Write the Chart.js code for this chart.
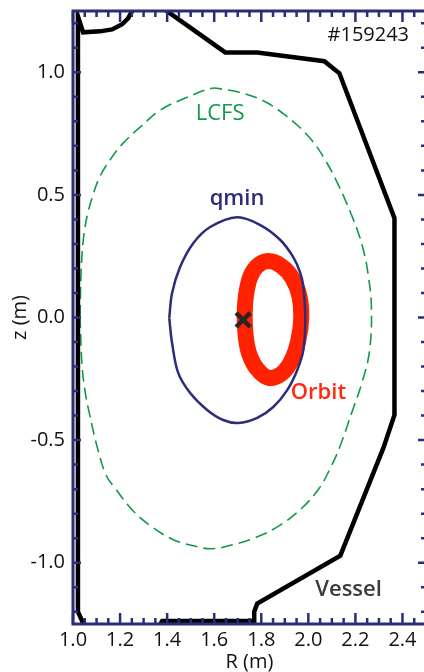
<!DOCTYPE html>
<html>
<head>
<meta charset="utf-8">
<script src="https://cdn.jsdelivr.net/npm/chart.js@4"></script>
<style>
  html, body { margin: 0; padding: 0; background: #fff; overflow: hidden; }
  #wrap { position: relative; width: 426px; height: 672px; }
</style>
</head>
<body>
<div id="wrap"><canvas id="myChart"></canvas></div>
<script>
// tick labels
const rTicks = [1.0, 1.2, 1.4, 1.6, 1.8, 2.0, 2.2, 2.4];
const zTicks = [-1.0, -0.5, 0.0, 0.5, 1.0];

// vessel wall (R, z) - parts above/below the frame get clipped
const vesselR = [1.021, 1.021, 1.043, 1.115, 1.166, 1.209, 1.234, 1.280, 1.325, 1.647, 1.783, 2.068, 2.132, 2.366, 2.366, 2.319, 2.136, 1.783, 1.770, 1.770, 1.379, 1.340, 1.060, 1.038, 1.021];
const vesselZ = [-1.200, 1.228, 1.163, 1.167, 1.175, 1.196, 1.220, 1.300, 1.300, 1.081, 1.081, 1.045, 0.996, 0.405, -0.397, -0.532, -0.971, -1.167, -1.200, -1.238, -1.238, -1.300, -1.300, -1.236, -1.200];

// last closed flux surface
const lcfsR = [1.030, 1.034, 1.042, 1.051, 1.063, 1.082, 1.113, 1.157, 1.213, 1.285, 1.370, 1.485, 1.591, 1.634, 1.706, 1.804, 1.902, 2.004, 2.072, 2.132, 2.180, 2.210, 2.235, 2.254, 2.268, 2.260, 2.230, 2.187, 2.132, 2.094, 2.047, 1.974, 1.877, 1.774, 1.677, 1.591, 1.511, 1.426, 1.340, 1.255, 1.178, 1.140, 1.104, 1.070, 1.051, 1.038, 1.030];
const lcfsZ = [0.002, 0.177, 0.299, 0.369, 0.426, 0.491, 0.572, 0.642, 0.711, 0.776, 0.845, 0.898, 0.935, 0.931, 0.919, 0.886, 0.825, 0.735, 0.642, 0.532, 0.426, 0.352, 0.271, 0.177, 0.043, -0.136, -0.259, -0.381, -0.532, -0.613, -0.695, -0.776, -0.849, -0.898, -0.927, -0.943, -0.931, -0.906, -0.857, -0.788, -0.695, -0.642, -0.532, -0.393, -0.299, -0.189, 0.002];

// qmin surface
const qminR = [1.409, 1.421, 1.455, 1.511, 1.583, 1.698, 1.796, 1.881, 1.936, 1.966, 1.979, 1.987, 1.979, 1.953, 1.911, 1.851, 1.783, 1.702, 1.638, 1.570, 1.498, 1.447, 1.421, 1.409];
const qminZ = [-0.002, 0.100, 0.206, 0.303, 0.369, 0.409, 0.377, 0.316, 0.246, 0.181, 0.124, -0.002, -0.132, -0.214, -0.295, -0.365, -0.409, -0.430, -0.418, -0.377, -0.308, -0.226, -0.104, -0.002];

// orbit
const orbitR = [1.730, 1.730, 1.736, 1.753, 1.783, 1.830, 1.885, 1.932, 1.962, 1.970, 1.957, 1.928, 1.885, 1.830, 1.779, 1.749, 1.736, 1.730];
const orbitZ = [-0.026, 0.031, 0.096, 0.165, 0.210, 0.230, 0.210, 0.161, 0.088, -0.002, -0.096, -0.177, -0.230, -0.246, -0.206, -0.149, -0.092, -0.026];

// magnetic axis
const axisR = [1.723];
const axisZ = [-0.010];

const navy = '#2b2d78';
const FONT = '"Open Sans", "DejaVu Sans", sans-serif';

const pts = (rs, zs) => rs.map((r, i) => ({x: r, y: zs[i]}));

// text labels (R, z of text centre)
const notes = [
    {text: '#159243', r: 2.428, z: 1.151, color: '#111', size: 20, align: 'right', bold: false},
    {text: 'LCFS', r: 1.625, z: 0.833, color: '#12994a', size: 22, align: 'center', bold: false},
    {text: 'qmin', r: 1.697, z: 0.483, color: navy, size: 22, align: 'center', bold: true},
    {text: 'Orbit', r: 2.043, z: -0.306, color: '#ff2a10', size: 22, align: 'center', bold: true},
    {text: 'Vessel', r: 2.171, z: -1.109, color: '#3c3c3c', size: 22, align: 'center', bold: true}
];

const framePlugin = {
    id: 'frame',
    afterDatasetsDraw(chart) {
        const {ctx, chartArea: a} = chart;
        const xs = chart.scales.x, ys = chart.scales.y;
        ctx.save();
        ctx.strokeStyle = navy;
        ctx.lineWidth = 2.5;
        ctx.beginPath();
        for (let i = 0; i <= 30; i++) {
            const px = xs.getPixelForValue(1 + i * 0.05);
            const len = i % 4 === 0 ? 11 : 6;
            ctx.moveTo(px, a.bottom); ctx.lineTo(px, a.bottom - len);
            ctx.moveTo(px, a.top); ctx.lineTo(px, a.top + len);
        }
        for (let i = -12; i <= 12; i++) {
            const py = ys.getPixelForValue(i * 0.1);
            const len = i % 5 === 0 ? 8 : 5;
            ctx.moveTo(a.left, py); ctx.lineTo(a.left + len, py);
            ctx.moveTo(a.right, py); ctx.lineTo(a.right - len, py);
        }
        ctx.stroke();
        ctx.lineWidth = 3;
        ctx.strokeRect(a.left, a.top, a.right - a.left, a.bottom - a.top);

        ctx.textBaseline = 'middle';
        notes.forEach(n => {
            ctx.font = (n.bold ? '600 ' : '') + n.size + 'px ' + FONT;
            ctx.textAlign = n.align;
            ctx.fillStyle = n.color;
            const px = xs.getPixelForValue(n.r), py = ys.getPixelForValue(n.z);
            ctx.fillText(n.text, px, py);
        });
        ctx.restore();
    }
};

const ctx = document.getElementById('myChart').getContext('2d');

const myChart = new Chart(ctx, {
    type: 'scatter',
    data: {
        datasets: [
            {
                label: 'axis',
                data: pts(axisR, axisZ),
                pointStyle: 'crossRot',
                pointRadius: 10,
                borderWidth: 4.5,
                borderColor: '#262626',
                order: 0
            },
            {
                label: 'Vessel',
                data: pts(vesselR, vesselZ),
                showLine: true,
                pointRadius: 0,
                borderColor: '#000',
                borderWidth: 4.5,
                borderJoinStyle: 'miter',
                clip: 0,
                order: 1
            },
            {
                label: 'qmin',
                data: pts(qminR, qminZ),
                showLine: true,
                pointRadius: 0,
                borderColor: navy,
                borderWidth: 2.5,
                tension: 0.35,
                order: 2
            },
            {
                label: 'Orbit',
                data: pts(orbitR, orbitZ),
                showLine: true,
                pointRadius: 0,
                borderColor: '#ff2200',
                borderWidth: 16,
                borderJoinStyle: 'round',
                tension: 0.35,
                order: 3
            },
            {
                label: 'LCFS',
                data: pts(lcfsR, lcfsZ),
                showLine: true,
                pointRadius: 0,
                borderColor: '#12994a',
                borderWidth: 1.6,
                borderDash: [12, 6],
                tension: 0.4,
                order: 4
            }
        ]
    },
    options: {
        responsive: true,
        maintainAspectRatio: false,
        animation: false,
        devicePixelRatio: 1,
        layout: { autoPadding: false, padding: { top: 11, left: 0, right: 0, bottom: 0 } },
        plugins: {
            legend: { display: false },
            tooltip: { enabled: false }
        },
        scales: {
            x: {
                type: 'linear',
                min: 1.0,
                max: 2.5,
                grid: { display: false, drawTicks: false },
                border: { display: false },
                afterBuildTicks: s => { s.ticks = rTicks.map(v => ({value: v})); },
                afterFit: s => { s.height = 48; s.paddingLeft = 0; s.paddingRight = 0; },
                ticks: {
                    autoSkip: false,
                    maxRotation: 0,
                    padding: 4,
                    color: '#111',
                    font: { family: FONT, size: 20 },
                    callback: v => v.toFixed(1)
                },
                title: {
                    display: true,
                    text: 'R (m)',
                    color: '#111',
                    font: { family: FONT, size: 20, lineHeight: 1 },
                    padding: { top: 0, bottom: 0 }
                }
            },
            y: {
                type: 'linear',
                min: -1.25,
                max: 1.25,
                grid: { display: false, drawTicks: false },
                border: { display: false },
                afterBuildTicks: s => { s.ticks = zTicks.map(v => ({value: v})); },
                afterFit: s => { s.width = 73; s.paddingTop = 0; s.paddingBottom = 0; },
                ticks: {
                    autoSkip: false,
                    padding: 8,
                    color: '#111',
                    font: { family: FONT, size: 20 },
                    callback: v => v.toFixed(1)
                },
                title: {
                    display: true,
                    text: 'z (m)',
                    color: '#111',
                    font: { family: FONT, size: 20, lineHeight: 1.2 },
                    padding: { top: 8, bottom: 0 }
                }
            }
        }
    },
    plugins: [framePlugin]
});
</script>
</body>
</html>
